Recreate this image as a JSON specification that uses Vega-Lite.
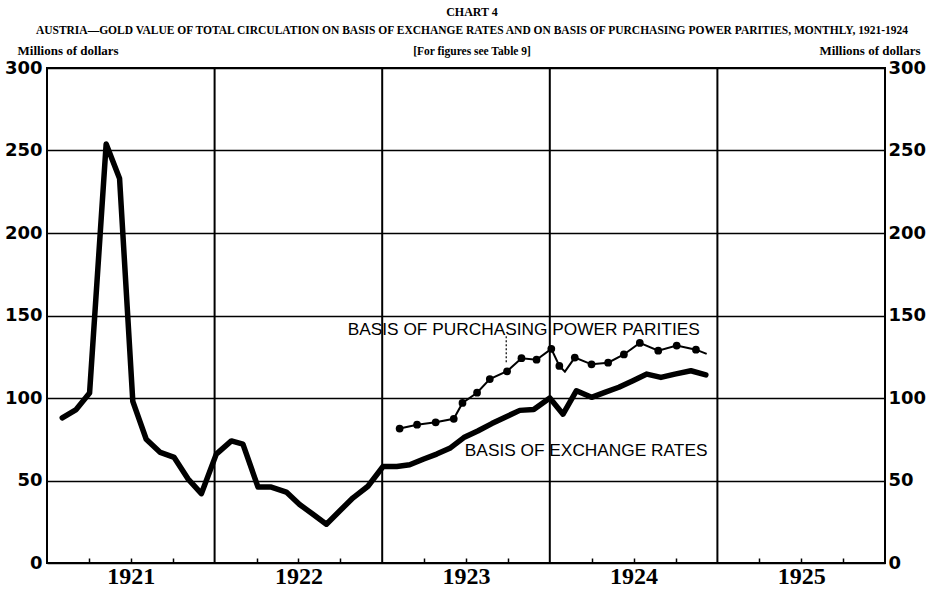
{
  "$schema": "https://vega.github.io/schema/vega-lite/v6.json",
  "width": 838,
  "height": 495,
  "autosize": {"type": "none"},
  "padding": {"left": 47, "top": 68, "right": 42, "bottom": 29},
  "background": "white",
  "config": {
    "view": {"stroke": "black", "strokeWidth": 2},
    "font": "Liberation Sans"
  },
  "title": {
    "text": "CHART 4",
    "subtitle": ["AUSTRIA—GOLD VALUE OF TOTAL CIRCULATION ON BASIS OF EXCHANGE RATES AND ON BASIS OF PURCHASING POWER PARITIES, MONTHLY, 1921-1924", "[For figures see Table 9]"],
    "anchor": "middle",
    "frame": "group",
    "font": "Liberation Serif",
    "fontSize": 12,
    "fontWeight": "bold",
    "color": "black",
    "subtitleFont": "Liberation Serif",
    "subtitleFontSize": 11.5,
    "subtitleFontWeight": "bold",
    "subtitleColor": "black",
    "subtitlePadding": 6,
    "subtitleLineHeight": 21,
    "offset": -14,
    "dx": 6
  },
  "datasets": {
    "years": [{"year": 1922}, {"year": 1923}, {"year": 1924}, {"year": 1925}],
    "exchange": [
      {"year": 1921.091, "value": 88},
      {"year": 1921.174, "value": 93},
      {"year": 1921.254, "value": 103},
      {"year": 1921.353, "value": 254},
      {"year": 1921.433, "value": 233},
      {"year": 1921.512, "value": 98},
      {"year": 1921.592, "value": 75},
      {"year": 1921.676, "value": 67},
      {"year": 1921.759, "value": 64},
      {"year": 1921.841, "value": 51},
      {"year": 1921.921, "value": 42},
      {"year": 1922.010, "value": 66},
      {"year": 1922.100, "value": 74},
      {"year": 1922.169, "value": 72},
      {"year": 1922.259, "value": 46},
      {"year": 1922.338, "value": 46},
      {"year": 1922.428, "value": 43},
      {"year": 1922.507, "value": 35.5},
      {"year": 1922.587, "value": 29.5},
      {"year": 1922.667, "value": 23.5},
      {"year": 1922.746, "value": 31.5},
      {"year": 1922.826, "value": 39.5},
      {"year": 1922.915, "value": 46.5},
      {"year": 1923.005, "value": 58.5},
      {"year": 1923.087, "value": 58.5},
      {"year": 1923.164, "value": 59.5},
      {"year": 1923.248, "value": 63},
      {"year": 1923.325, "value": 66},
      {"year": 1923.403, "value": 69.5},
      {"year": 1923.487, "value": 76},
      {"year": 1923.570, "value": 80},
      {"year": 1923.654, "value": 84.5},
      {"year": 1923.737, "value": 88.5},
      {"year": 1923.821, "value": 92.5},
      {"year": 1923.904, "value": 93},
      {"year": 1924.000, "value": 100},
      {"year": 1924.079, "value": 90.2},
      {"year": 1924.159, "value": 104.4},
      {"year": 1924.249, "value": 100.4},
      {"year": 1924.328, "value": 103.4},
      {"year": 1924.412, "value": 106.5},
      {"year": 1924.496, "value": 110.5},
      {"year": 1924.579, "value": 114.5},
      {"year": 1924.663, "value": 112.5},
      {"year": 1924.746, "value": 114.5},
      {"year": 1924.842, "value": 116.5},
      {"year": 1924.931, "value": 114}
    ],
    "ppp": [
      {"year": 1923.104, "value": 81.5, "dot": true},
      {"year": 1923.208, "value": 83.8, "dot": true},
      {"year": 1923.319, "value": 85.3, "dot": true},
      {"year": 1923.427, "value": 87.4, "dot": true},
      {"year": 1923.479, "value": 97, "dot": true},
      {"year": 1923.566, "value": 103.2, "dot": true},
      {"year": 1923.642, "value": 111.5, "dot": true},
      {"year": 1923.745, "value": 116.2, "dot": true},
      {"year": 1923.831, "value": 124.1, "dot": true},
      {"year": 1923.921, "value": 123.2, "dot": true},
      {"year": 1924.009, "value": 129.8, "dot": true},
      {"year": 1924.057, "value": 119.4, "dot": true},
      {"year": 1924.090, "value": 116, "dot": false},
      {"year": 1924.149, "value": 124.5, "dot": true},
      {"year": 1924.249, "value": 120.4, "dot": true},
      {"year": 1924.348, "value": 121.4, "dot": true},
      {"year": 1924.442, "value": 126.4, "dot": true},
      {"year": 1924.537, "value": 133.4, "dot": true},
      {"year": 1924.647, "value": 128.7, "dot": true},
      {"year": 1924.757, "value": 131.8, "dot": true},
      {"year": 1924.872, "value": 129.3, "dot": true},
      {"year": 1924.936, "value": 126.7, "dot": false}
    ],
    "labels": [
      {"year": 1922.794, "value": 138.3, "label": "BASIS OF PURCHASING POWER PARITIES"},
      {"year": 1923.493, "value": 64.7, "label": "BASIS OF EXCHANGE RATES"}
    ],
    "leader": [
      {"year": 1923.74, "value": 121.7, "value2": 137.5}
    ]
  },
  "layer": [
    {
      "data": {"name": "years"},
      "mark": {"type": "rule", "color": "black", "strokeWidth": 2},
      "encoding": {
        "x": {
          "field": "year", "type": "quantitative", "title": null,
          "scale": {"domain": [1921, 1926], "nice": false, "zero": false},
          "axis": {
            "values": [1921.25, 1921.5, 1921.75, 1922.25, 1922.5, 1922.75, 1923.25, 1923.5, 1923.75, 1924.25, 1924.5, 1924.75, 1925.25, 1925.5, 1925.75],
            "labelExpr": "datum.value * 4 % 4 == 2 ? floor(datum.value) + '' : ''",
            "grid": false,
            "domain": false,
            "tickSize": -5,
            "tickColor": "black",
            "tickWidth": 1.5,
            "labelFont": "Liberation Sans Narrow",
            "labelFontWeight": "bold",
            "labelFontSize": 24,
            "labelColor": "black",
            "labelPadding": 6,
            "labelFlush": false,
            "labelOverlap": false,
            "labelBound": false
          }
        }
      }
    },
    {
      "data": {"name": "exchange"},
      "mark": {"type": "line", "color": "black", "strokeWidth": 5.5, "strokeJoin": "round", "strokeCap": "round"},
      "encoding": {
        "x": {"field": "year", "type": "quantitative", "title": null},
        "y": {
          "field": "value", "type": "quantitative",
          "scale": {"domain": [0, 300], "nice": false, "zero": true},
          "axis": {
            "orient": "left",
            "values": [0, 50, 100, 150, 200, 250, 300],
            "grid": true, "gridColor": "black", "gridWidth": 1.6, "gridOpacity": 1,
            "domain": false, "ticks": false,
            "labelFont": "DejaVu Sans", "labelFontWeight": "bold", "labelFontSize": 18, "labelColor": "black",
            "labelPadding": 5, "labelFlush": false, "labelOverlap": false, "labelBaseline": "middle",
            "title": "Millions of dollars",
            "titleAngle": 0, "titleX": -30, "titleY": -18, "titleAlign": "left", "titleBaseline": "middle",
            "titleFont": "Liberation Serif", "titleFontSize": 13, "titleFontWeight": "bold", "titleColor": "black"
          }
        }
      }
    },
    {
      "data": {"name": "ppp"},
      "mark": {"type": "line", "color": "black", "strokeWidth": 2},
      "encoding": {
        "x": {"field": "year", "type": "quantitative", "title": null},
        "y": {
          "field": "value", "type": "quantitative",
          "scale": {"domain": [0, 300], "nice": false, "zero": true},
          "axis": {
            "orient": "right",
            "values": [0, 50, 100, 150, 200, 250, 300],
            "grid": false, "domain": false, "ticks": false,
            "labelFont": "DejaVu Sans", "labelFontWeight": "bold", "labelFontSize": 18, "labelColor": "black",
            "labelPadding": 3, "labelFlush": false, "labelOverlap": false, "labelBaseline": "middle",
            "title": "Millions of dollars",
            "titleAngle": 0, "titleX": 35, "titleY": -18, "titleAlign": "right", "titleBaseline": "middle",
            "titleFont": "Liberation Serif", "titleFontSize": 13, "titleFontWeight": "bold", "titleColor": "black"
          }
        }
      }
    },
    {
      "data": {"name": "ppp"},
      "transform": [{"filter": "datum.dot"}],
      "mark": {"type": "circle", "color": "black", "opacity": 1, "size": 60},
      "encoding": {
        "x": {"field": "year", "type": "quantitative", "title": null},
        "y": {"field": "value", "type": "quantitative", "scale": {"domain": [0, 300], "nice": false, "zero": true}, "axis": null}
      }
    },
    {
      "data": {"name": "labels"},
      "mark": {"type": "text", "align": "left", "baseline": "alphabetic", "font": "Liberation Sans", "fontSize": 17.3, "color": "black"},
      "encoding": {
        "x": {"field": "year", "type": "quantitative", "title": null},
        "y": {"field": "value", "type": "quantitative", "scale": {"domain": [0, 300], "nice": false, "zero": true}, "axis": null},
        "text": {"field": "label", "type": "nominal"}
      }
    },
    {
      "data": {"name": "leader"},
      "mark": {"type": "rule", "color": "black", "strokeWidth": 1.2, "strokeDash": [2, 2]},
      "encoding": {
        "x": {"field": "year", "type": "quantitative", "title": null},
        "y": {"field": "value", "type": "quantitative", "scale": {"domain": [0, 300], "nice": false, "zero": true}, "axis": null},
        "y2": {"field": "value2"}
      }
    }
  ],
  "resolve": {"scale": {"y": "independent"}}
}
